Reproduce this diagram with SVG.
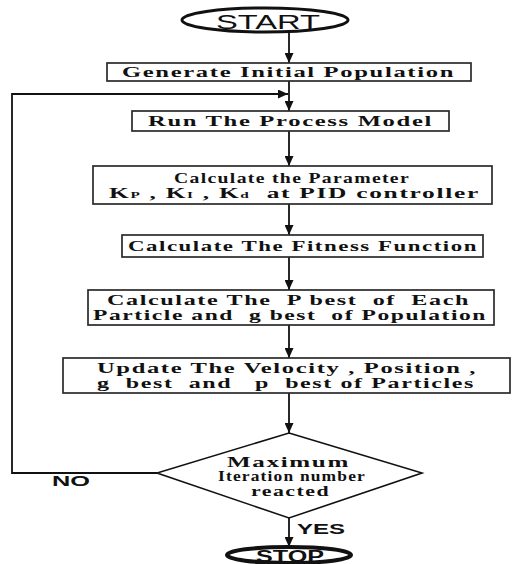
<svg xmlns="http://www.w3.org/2000/svg" width="512" height="564" viewBox="0 0 512 564">
<defs>
<marker id="ah" markerUnits="userSpaceOnUse" markerWidth="10" markerHeight="9" refX="10" refY="4.5" orient="auto"><path d="M0,0 L10,4.5 L0,9 z" fill="#111"/></marker>
<style>
.box{fill:#fff;stroke:#2a2a2a;stroke-width:1.7}
.t{font-family:"Liberation Serif","Times New Roman",serif;font-weight:bold;font-size:15px;letter-spacing:1px;fill:#111}
.s{font-family:"Liberation Sans",Arial,sans-serif;fill:#111}
.c{fill:none;stroke:#111;stroke-width:1.8}
</style>
</defs>
<rect width="512" height="564" fill="#fff"/>
<g id="connectors">
<line class="c" x1="289" y1="32" x2="289" y2="63" marker-end="url(#ah)"/>
<line class="c" x1="289" y1="81" x2="289" y2="111" marker-end="url(#ah)"/>
<polyline class="c" points="157,473 12,473 12,94 288,94" marker-end="url(#ah)"/>
<line class="c" x1="289" y1="131" x2="289" y2="166" marker-end="url(#ah)"/>
<line class="c" x1="289" y1="204" x2="289" y2="235" marker-end="url(#ah)"/>
<line class="c" x1="289" y1="257" x2="289" y2="290" marker-end="url(#ah)"/>
<line class="c" x1="289" y1="325" x2="289" y2="358" marker-end="url(#ah)"/>
<line class="c" x1="289" y1="393" x2="289" y2="433" marker-end="url(#ah)"/>
<line class="c" x1="289" y1="518" x2="289" y2="547" marker-end="url(#ah)"/>
<text class="s" x="52" y="486" font-size="15" font-weight="bold" textLength="38" lengthAdjust="spacingAndGlyphs">NO</text>
<text class="s" x="297" y="534" font-size="15" font-weight="bold" textLength="48" lengthAdjust="spacingAndGlyphs">YES</text>
</g>
<g id="start">
<ellipse cx="265" cy="20" rx="83" ry="12" fill="#fff" stroke="#111" stroke-width="3"/>
<text class="s" x="216" y="29" font-size="21" textLength="104" lengthAdjust="spacingAndGlyphs">START</text>
</g>
<g id="generate">
<rect class="box" x="107" y="63" width="364" height="18"/>
<text class="t" x="122" y="77" textLength="333" lengthAdjust="spacingAndGlyphs">Generate Initial Population</text>
</g>
<g id="run">
<rect class="box" x="132" y="111" width="317" height="20"/>
<text class="t" x="148" y="126" textLength="285" lengthAdjust="spacingAndGlyphs">Run The Process Model</text>
</g>
<g id="param">
<rect class="box" x="93" y="166" width="399" height="38"/>
<text class="t" x="174" y="183" textLength="236" lengthAdjust="spacingAndGlyphs">Calculate the Parameter</text>
<text class="t" x="109" y="198" textLength="371" lengthAdjust="spacingAndGlyphs" xml:space="preserve">K<tspan font-size="9">P</tspan> , K<tspan font-size="9">I</tspan> , K<tspan font-size="9">d</tspan>  at PID controller</text>
</g>
<g id="fitness">
<rect class="box" x="122" y="235" width="361" height="22"/>
<text class="t" x="128" y="251" textLength="350" lengthAdjust="spacingAndGlyphs">Calculate The Fitness Function</text>
</g>
<g id="pbest">
<rect class="box" x="88" y="290" width="406" height="35"/>
<text class="t" x="107" y="304.5" textLength="363" lengthAdjust="spacingAndGlyphs" xml:space="preserve">Calculate The  P best  of  Each</text>
<text class="t" x="93" y="319.5" textLength="394" lengthAdjust="spacingAndGlyphs" xml:space="preserve">Particle and  g best  of Population</text>
</g>
<g id="update">
<rect class="box" x="63" y="358" width="447" height="35"/>
<text class="t" x="97" y="372.5" textLength="380" lengthAdjust="spacingAndGlyphs">Update The Velocity , Position ,</text>
<text class="t" x="97" y="387.5" textLength="378" lengthAdjust="spacingAndGlyphs" xml:space="preserve">g  best  and   p  best of Particles</text>
</g>
<g id="decision">
<polygon points="289,433 422,473 289,518 157,473" fill="#fff" stroke="#111" stroke-width="1.6"/>
<text class="t" x="227" y="466.5" textLength="123" lengthAdjust="spacingAndGlyphs">Maximum</text>
<text class="t" x="218" y="481" textLength="148" lengthAdjust="spacingAndGlyphs">Iteration number</text>
<text class="t" x="251" y="495.5" textLength="79" lengthAdjust="spacingAndGlyphs">reacted</text>
</g>
<g id="stop">
<ellipse cx="289" cy="555" rx="62" ry="8" fill="#fff" stroke="#111" stroke-width="4"/>
<text class="s" x="256" y="562" font-size="16" font-weight="bold" textLength="68" lengthAdjust="spacingAndGlyphs">STOP</text>
</g>
</svg>
